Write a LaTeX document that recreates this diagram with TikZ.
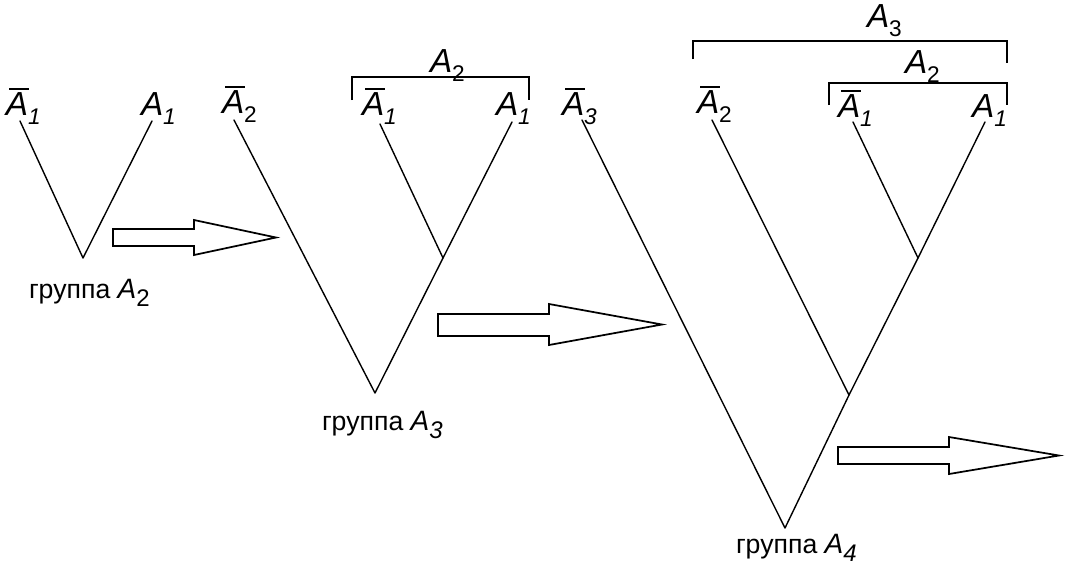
\documentclass[tikz,border=0pt]{standalone}
\usepackage{fontspec}
\setmainfont{Liberation Sans}
\newcommand\ovbar{\makebox[0pt][l]{\hspace{0.1em}\raisebox{0.76em}{\rule{0.58em}{0.05em}}}}
\newcommand\lbA[2]{{\fontsize{25}{26}\selectfont#1\textit{A}\raisebox{-0.27em}{\fontsize{17}{18}\selectfont#2}}}
\newcommand\grp[1]{{\fontsize{20}{21}\selectfont группа \fontsize{21}{22}\selectfont\textit{A}\raisebox{-0.3em}{\fontsize{18}{19}\selectfont#1}}}
\tikzset{
  lbl/.style={anchor=base west, inner sep=0pt, outer sep=0pt},
  branch/.style={line width=1.05pt, line cap=round, line join=round},
  brk/.style={line width=0.8pt},
  bigarrow/.style={line width=1.3pt, line join=miter, fill=white}
}
\begin{document}
\begin{tikzpicture}[x=0.75pt,y=-0.75pt]
\useasboundingbox (0,0) rectangle (1066,568);
% ---------- tree 1 ----------
\node[lbl] (t1l) at (6,115) {\lbA{\ovbar}{\textit{1}}};
\node[lbl] (t1r) at (141,115) {\lbA{}{\textit{1}}};
\coordinate (t1la) at (20,121);
\coordinate (t1ra) at (152,121);
\coordinate (t1v) at (83,258);
\draw[branch] (t1la) -- (t1v) -- (t1ra);
\node[lbl] (g2) at (29,298) {\grp{2}};
% arrow 1
\coordinate (a1s1) at (113,229); \coordinate (a1s2) at (194,229);
\coordinate (a1h1) at (194,220); \coordinate (a1t) at (276,237.5);
\coordinate (a1h2) at (194,255); \coordinate (a1s3) at (194,246);
\coordinate (a1s4) at (113,246);
\draw[bigarrow] (a1s1) -- (a1s2) -- (a1h1) -- (a1t) -- (a1h2) -- (a1s3) -- (a1s4) -- cycle;
% ---------- tree 2 ----------
\node[lbl] (t2a) at (222,113) {\lbA{\ovbar}{2}};
\node[lbl] (t2b) at (362,115) {\lbA{\ovbar}{\textit{1}}};
\node[lbl] (t2c) at (496,115) {\lbA{}{\textit{1}}};
\node[lbl] (t2k) at (430,72) {\lbA{}{2}};
\coordinate (t2aa) at (234,120);
\coordinate (t2ba) at (380,124);
\coordinate (t2ca) at (512,122);
\coordinate (t2j) at (443,258);
\coordinate (t2v) at (375,393);
\draw[branch] (t2aa) -- (t2v) -- (t2j) -- (t2ca);
\draw[branch] (t2ba) -- (t2j);
\coordinate (b2l) at (352,100); \coordinate (b2lt) at (352,77);
\coordinate (b2rt) at (529,77); \coordinate (b2r) at (529,100);
\draw[brk] (b2l) -- (b2lt) -- (b2rt) -- (b2r);
\node[lbl] (g3) at (322,430) {\grp{\textit{3}}};
% arrow 2
\coordinate (a2s1) at (438,314); \coordinate (a2s2) at (549,314);
\coordinate (a2h1) at (549,304); \coordinate (a2t) at (662,324.5);
\coordinate (a2h2) at (549,345); \coordinate (a2s3) at (549,336);
\coordinate (a2s4) at (438,336);
\draw[bigarrow] (a2s1) -- (a2s2) -- (a2h1) -- (a2t) -- (a2h2) -- (a2s3) -- (a2s4) -- cycle;
% ---------- tree 3 ----------
\node[lbl] (t3a) at (562,115) {\lbA{\ovbar}{\textit{3}}};
\node[lbl] (t3b) at (697,113) {\lbA{\ovbar}{2}};
\node[lbl] (t3c) at (838,117) {\lbA{\ovbar}{\textit{1}}};
\node[lbl] (t3d) at (972,117) {\lbA{}{\textit{1}}};
\node[lbl] (t3k2) at (905,73) {\lbA{}{2}};
\node[lbl] (t3k3) at (867,27) {\lbA{}{3}};
\coordinate (t3aa) at (582,120);
\coordinate (t3ba) at (712,120);
\coordinate (t3ca) at (853,122);
\coordinate (t3da) at (985,122);
\coordinate (t3j1) at (918,258);
\coordinate (t3j2) at (849,395);
\coordinate (t3v) at (785,528);
\draw[branch] (t3aa) -- (t3v) -- (t3j2) -- (t3j1) -- (t3da);
\draw[branch] (t3ba) -- (t3j2);
\draw[branch] (t3ca) -- (t3j1);
\coordinate (b3l) at (693,59); \coordinate (b3lt) at (693,41);
\coordinate (b3rt) at (1007,41); \coordinate (b3r) at (1007,63);
\draw[brk] (b3l) -- (b3lt) -- (b3rt) -- (b3r);
\coordinate (b4l) at (829,105); \coordinate (b4lt) at (829,83);
\coordinate (b4rt) at (1007,83); \coordinate (b4r) at (1007,105);
\draw[brk] (b4l) -- (b4lt) -- (b4rt) -- (b4r);
\node[lbl] (g4) at (736,553) {\grp{\textit{4}}};
% arrow 3
\coordinate (a3s1) at (838,447); \coordinate (a3s2) at (949,447);
\coordinate (a3h1) at (949,437); \coordinate (a3t) at (1059,455.5);
\coordinate (a3h2) at (949,474); \coordinate (a3s3) at (949,464);
\coordinate (a3s4) at (838,464);
\draw[bigarrow] (a3s1) -- (a3s2) -- (a3h1) -- (a3t) -- (a3h2) -- (a3s3) -- (a3s4) -- cycle;
\end{tikzpicture}
\end{document}
